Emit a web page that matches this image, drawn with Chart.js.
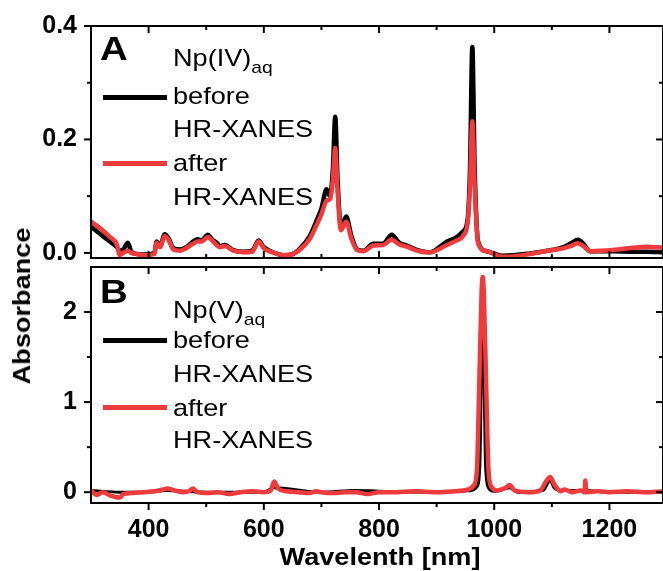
<!DOCTYPE html>
<html>
<head>
<meta charset="utf-8">
<title>Np absorbance before / after HR-XANES</title>
<script src="https://cdn.jsdelivr.net/npm/chart.js@4.4.1/dist/chart.umd.min.js"></script>
<style>
  html, body { margin: 0; padding: 0; background: #fff; }
  #wrap { position: relative; width: 663px; height: 571px; overflow: hidden; font-family: "Liberation Sans", Arial, sans-serif; }
  #wrap canvas { position: absolute; left: 0; }
  .txt { position: absolute; white-space: nowrap; line-height: 1; transform-origin: left top; transform: scaleX(1.13); color: #000; }
  .leg { font-size: 24px; }
  .big { font-size: 34px; font-weight: bold; }
  .sub { font-size: 17px; position: relative; top: 7px; }
  .swatch { position: absolute; height: 5px; width: 64px; left: 103px; }
  #ylab { position: absolute; left: 22px; top: 306px; font-size: 24px; font-weight: bold; white-space: nowrap; line-height: 1;
          transform: translate(-50%, -50%) rotate(-90deg) scaleX(1.13); }
  #xlab { position: absolute; left: 380px; top: 545px; font-size: 24px; font-weight: bold; white-space: nowrap; line-height: 1;
          transform: translateX(-50%) scaleX(1.13); }
</style>
</head>
<body>
<div id="wrap">
  <canvas id="chartA" width="663" height="262" style="top:0"></canvas>
  <canvas id="chartB" width="663" height="309" style="top:262px"></canvas>

  <div class="txt big" style="left:100px; top:31px">A</div>
  <div class="txt leg" style="left:173px; top:46px">Np(IV)<span class="sub">aq</span></div>
  <div class="swatch" style="top:95px; background:#000"></div>
  <div class="txt leg" style="left:173px; top:84px">before</div>
  <div class="txt leg" style="left:173px; top:117px">HR-XANES</div>
  <div class="swatch" style="top:161px; background:#f03b3d"></div>
  <div class="txt leg" style="left:173px; top:151px">after</div>
  <div class="txt leg" style="left:173px; top:185px">HR-XANES</div>

  <div class="txt big" style="left:100px; top:274px">B</div>
  <div class="txt leg" style="left:173px; top:298px">Np(V)<span class="sub">aq</span></div>
  <div class="swatch" style="top:338px; background:#000"></div>
  <div class="txt leg" style="left:173px; top:328px">before</div>
  <div class="txt leg" style="left:173px; top:362px">HR-XANES</div>
  <div class="swatch" style="top:405px; background:#f03b3d"></div>
  <div class="txt leg" style="left:173px; top:396px">after</div>
  <div class="txt leg" style="left:173px; top:428px">HR-XANES</div>

  <div id="ylab">Absorbance</div>
  <div id="xlab">Wavelenth [nm]</div>
</div>

<script>
// ---- data ----
// panel A: Np(IV)aq
const wlA = [300, 310, 320, 333, 345, 350, 356, 364, 370, 380, 395, 410, 414, 420, 428, 435, 443, 455, 465, 477,
  485, 492, 503, 510, 518, 524, 532, 547, 565, 580, 591, 600, 612, 634, 650, 663, 680, 692, 700, 709,
  715, 720, 724, 728, 734, 743, 752, 762, 773, 790, 807, 822, 835, 848, 870, 888, 918, 935, 946, 954,
  958, 962, 966, 972, 987, 1016, 1062, 1100, 1120, 1135, 1145, 1155, 1166, 1206, 1240, 1265, 1293];
const beforeA = [0.046, 0.038, 0.030, 0.020, 0.010, 0.004, 0.006, 0.018, 0.002, -0.002, -0.003, 0.000, 0.020, 0.012, 0.033, 0.025, 0.008, 0.006, 0.010, 0.020,
  0.024, 0.022, 0.032, 0.024, 0.018, 0.012, 0.014, 0.005, 0.002, 0.004, 0.022, 0.010, 0.003, -0.004, -0.002, 0.008, 0.030, 0.058, 0.078, 0.112,
  0.100, 0.150, 0.240, 0.130, 0.045, 0.064, 0.030, 0.006, 0.004, 0.016, 0.016, 0.032, 0.018, 0.013, 0.004, 0.001, 0.020, 0.028, 0.038, 0.060,
  0.150, 0.363, 0.150, 0.020, 0.003, -0.005, -0.001, 0.005, 0.010, 0.018, 0.023, 0.016, 0.003, 0.003, 0.002, 0.002, 0.001];
const afterA = [0.055, 0.048, 0.040, 0.028, 0.015, -0.004, 0.000, 0.004, 0.000, -0.002, -0.004, -0.002, 0.018, 0.010, 0.030, 0.022, 0.006, 0.004, 0.008, 0.016,
  0.020, 0.020, 0.028, 0.022, 0.014, 0.010, 0.012, 0.004, 0.001, 0.002, 0.020, 0.008, 0.002, -0.004, -0.002, 0.006, 0.025, 0.050, 0.068, 0.092,
  0.095, 0.130, 0.185, 0.110, 0.040, 0.055, 0.025, 0.005, 0.003, 0.013, 0.014, 0.023, 0.015, 0.011, 0.003, 0.001, 0.014, 0.022, 0.030, 0.055,
  0.120, 0.232, 0.120, 0.017, 0.003, -0.007, -0.002, 0.005, 0.008, 0.013, 0.017, 0.012, 0.003, 0.005, 0.009, 0.011, 0.009];

// panel B: Np(V)aq
const wlBefB = [300, 350, 400, 430, 500, 600, 617, 700, 760, 800, 900, 960, 970, 975, 978, 980, 982, 985, 990, 1000,
  1027, 1040, 1085, 1097, 1105, 1120, 1158, 1200, 1293];
const beforeB = [0.02, 0.00, 0.00, 0.02, 0.00, 0.00, 0.05, 0.00, 0.02, 0.01, 0.00, 0.02, 0.06, 0.30, 1.50, 2.39, 1.50, 0.30, 0.05, 0.01,
  0.05, 0.00, 0.02, 0.13, 0.04, 0.02, 0.02, 0.00, 0.00];
const wlAftB = [300, 310, 320, 335, 350, 356, 370, 390, 410, 425, 433, 445, 460, 470, 477, 485, 500, 520, 540, 560,
  580, 600, 612, 618, 625, 640, 660, 680, 690, 700, 720, 740, 760, 780, 800, 830, 860, 900, 930, 955,
  965, 970, 974, 978, 980, 982, 986, 990, 995, 1005, 1020, 1027, 1035, 1060, 1080, 1090, 1097, 1105, 1115, 1122,
  1135, 1150, 1157, 1158, 1160, 1180, 1200, 1230, 1260, 1293];
const afterB = [0.02, -0.03, 0.00, -0.04, -0.06, -0.02, -0.01, 0.00, 0.01, 0.03, 0.04, 0.02, 0.00, 0.01, 0.04, 0.00, -0.01, 0.00, -0.02, 0.00,
  0.01, 0.00, 0.02, 0.12, 0.04, 0.01, 0.00, -0.01, 0.01, 0.00, -0.01, 0.00, 0.00, -0.02, 0.00, 0.00, 0.01, 0.00, 0.01, 0.03,
  0.08, 0.25, 1.20, 2.20, 2.39, 2.20, 1.20, 0.25, 0.06, 0.02, 0.05, 0.08, 0.02, 0.00, 0.02, 0.12, 0.17, 0.08, 0.01, 0.03,
  0.00, 0.02, 0.00, 0.13, 0.00, 0.01, 0.00, 0.01, 0.00, 0.01];

// axis ticks
const xMajor = [400, 600, 800, 1000, 1200];
const xMinor = [500, 700, 900, 1100];
const yMajorA = [0, 0.2, 0.4];
const yMinorA = [0.1, 0.3];
const yMajorB = [0, 1, 2];
const yMinorB = [0.5, 1.5];

const BLACK = '#000000';
const RED = '#f03b3d';
const tickFont = { family: '"Liberation Sans", Arial, sans-serif', size: 25, weight: 'bold' };

const pts = (xs, ys) => xs.map((x, i) => ({ x: x, y: ys[i] }));

// labels sit inside the fixed box, so drop the auto label padding
const noPad = s => { s.paddingTop = 0; s.paddingBottom = 0; s.paddingLeft = 0; s.paddingRight = 0; };

// box frame + Origin-style tick marks (left/bottom out, mirrors in)
const frameTicks = {
  id: 'frameTicks',
  afterDraw(chart, args, opts) {
    const { ctx, chartArea: a } = chart;
    const x = chart.scales.x, y = chart.scales.y;
    ctx.save();
    ctx.strokeStyle = '#000';
    ctx.lineWidth = 2;
    ctx.strokeRect(a.left, a.top, a.right - a.left, a.bottom - a.top);
    const seg = (x1, y1, x2, y2) => { ctx.beginPath(); ctx.moveTo(x1, y1); ctx.lineTo(x2, y2); ctx.stroke(); };
    const xt = (vals, len) => vals.forEach(v => {
      const px = x.getPixelForValue(v);
      seg(px, a.top, px, a.top + len);
      seg(px, a.bottom, px, a.bottom + opts.bottomDir * len);
    });
    const yt = (vals, len) => vals.forEach(v => {
      const py = y.getPixelForValue(v);
      seg(a.left, py, a.left - len, py);
      seg(a.right, py, a.right - len, py);
    });
    xt(xMajor, 7); xt(xMinor, 4);
    yt(opts.yMajor, 7); yt(opts.yMinor, 4);
    ctx.restore();
  }
};

function lineSet(data, color) {
  return {
    data: data,
    borderColor: color,
    backgroundColor: color,
    borderWidth: 4.5,
    pointRadius: 0,
    cubicInterpolationMode: 'monotone',
    fill: false
  };
}

// panel A
new Chart(document.getElementById('chartA'), {
  type: 'line',
  data: {
    datasets: [
      Object.assign(lineSet(pts(wlA, afterA), RED), { order: 0 }),
      Object.assign(lineSet(pts(wlA, beforeA), BLACK), { order: 1 })
    ]
  },
  options: {
    responsive: false,
    animation: false,
    layout: { padding: { top: 26, right: 0, bottom: 4, left: 0 } },
    plugins: {
      legend: { display: false },
      tooltip: { enabled: false },
      frameTicks: { bottomDir: -1, yMajor: yMajorA, yMinor: yMinorA }
    },
    scales: {
      x: { type: 'linear', min: 300, max: 1293, display: false },
      y: {
        type: 'linear', min: -0.009, max: 0.4,
        grid: { display: false, drawTicks: false },
        border: { display: false },
        afterBuildTicks: s => { s.ticks = yMajorA.map(v => ({ value: v })); },
        afterFit: s => { s.width = 91; noPad(s); },
        ticks: { font: tickFont, color: '#000', padding: 14, callback: v => v.toFixed(1) }
      }
    }
  },
  plugins: [frameTicks]
});

// panel B
new Chart(document.getElementById('chartB'), {
  type: 'line',
  data: {
    datasets: [
      Object.assign(lineSet(pts(wlAftB, afterB), RED), { order: 0 }),
      Object.assign(lineSet(pts(wlBefB, beforeB), BLACK), { order: 1, borderWidth: 3 })
    ]
  },
  options: {
    responsive: false,
    animation: false,
    layout: { padding: { top: 5, right: 0, bottom: 0, left: 0 } },
    plugins: {
      legend: { display: false },
      tooltip: { enabled: false },
      frameTicks: { bottomDir: 1, yMajor: yMajorB, yMinor: yMinorB }
    },
    scales: {
      x: {
        type: 'linear', min: 300, max: 1293,
        grid: { display: false, drawTicks: false },
        border: { display: false },
        afterBuildTicks: s => { s.ticks = xMajor.map(v => ({ value: v })); },
        afterFit: s => { s.height = 68; noPad(s); },
        ticks: { font: tickFont, color: '#000', padding: 12, maxRotation: 0, callback: v => String(v) }
      },
      y: {
        type: 'linear', min: -0.12, max: 2.5,
        grid: { display: false, drawTicks: false },
        border: { display: false },
        afterBuildTicks: s => { s.ticks = yMajorB.map(v => ({ value: v })); },
        afterFit: s => { s.width = 91; noPad(s); },
        ticks: { font: tickFont, color: '#000', padding: 14, callback: v => String(v) }
      }
    }
  },
  plugins: [frameTicks]
});
</script>
</body>
</html>
